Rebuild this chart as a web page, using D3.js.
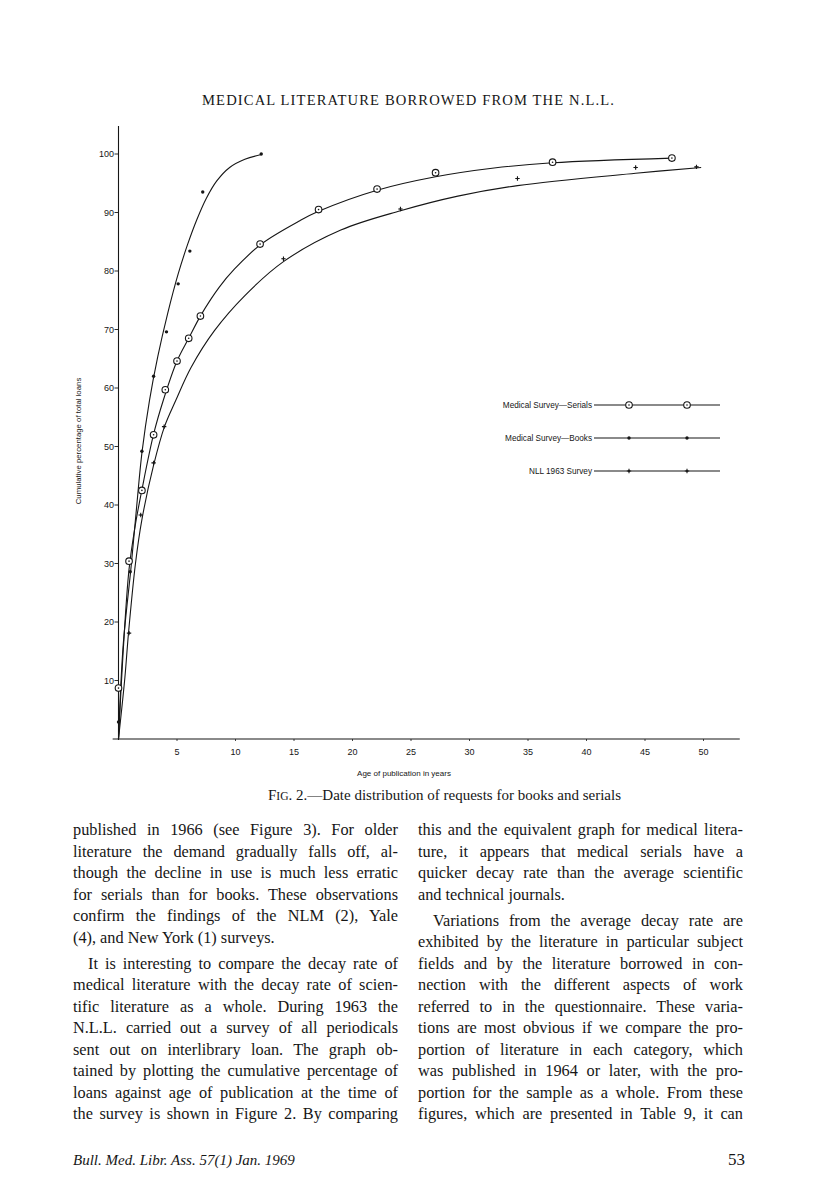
<!DOCTYPE html>
<html>
<head>
<meta charset="utf-8">
<script src="https://cdn.jsdelivr.net/npm/d3@7"></script>
<style>
  html, body { margin: 0; padding: 0; background: #ffffff; }
  svg { display: block; }
</style>
</head>
<body>
<script>
// ---------------- DATA ----------------
const serialsAge = [0, 0.9, 2, 3, 4, 5, 6, 7, 12.1, 17.1, 22.1, 27.1, 37.1, 47.3];
const serialsPct = [8.7, 30.4, 42.5, 52.0, 59.7, 64.6, 68.5, 72.3, 84.6, 90.5, 94.0, 96.8, 98.6, 99.3];

const booksAge = [0, 1, 2, 3, 4.1, 5.1, 6.1, 7.2, 12.2];
const booksPct = [2.9, 28.6, 49.2, 62.0, 69.6, 77.8, 83.4, 93.5, 100];

const nllAge = [0.9, 1.9, 3.0, 3.9, 14.1, 24.1, 34.1, 44.2, 49.4];
const nllPct = [18.1, 38.3, 47.2, 53.4, 82.1, 90.6, 95.8, 97.7, 97.8];

// hand-drawn fitted curves
const booksCurveAge = [0, 0.4, 1.08, 1.5, 2.02, 2.65, 3.36, 4.21, 5.1, 5.9, 6.7, 7.5, 8.4, 9.5, 10.8, 12.2];
const booksCurvePct = [0, 16, 29.5, 38.6, 49.2, 57.9, 65.4, 72.8, 79.5, 84.5, 88.8, 92.4, 95.4, 97.7, 99.1, 99.9];

const serialsCurveAge = [0, 0.4, 0.9, 1.43, 2.0, 3.0, 3.83, 5.0, 6.0, 7.06, 8.6, 9.9, 12.2, 15.5, 17.1, 22.1, 27.1, 32.1, 37.1, 47.3];
const serialsCurvePct = [0, 15, 29.0, 36.5, 42.6, 52.1, 57.9, 64.6, 68.5, 72.5, 77.2, 80.3, 84.6, 88.6, 90.2, 93.8, 96.1, 97.6, 98.5, 99.3];

const nllCurveAge = [0, 0.55, 0.85, 1.45, 2.0, 3.0, 3.93, 4.9, 6.2, 8.2, 10.8, 14.1, 19, 24.1, 29, 34.1, 44.2, 49.8];
const nllCurvePct = [0, 10.6, 18, 30, 37.5, 46.8, 53.4, 57.9, 63.5, 69.8, 75.8, 81.6, 87, 90.3, 92.8, 94.6, 96.7, 97.7];

const yTicks = [10, 20, 30, 40, 50, 60, 70, 80, 90, 100];
const xTicks = [5, 10, 15, 20, 25, 30, 35, 40, 45, 50];

const legendLabels = ["Medical Survey\u2014Serials", "Medical Survey\u2014Books", "NLL 1963 Survey"];

const titleText = "MEDICAL LITERATURE BORROWED FROM THE N.L.L.";
const xLabel = "Age of publication in years";
const yLabel = "Cumulative percentage of total loans";

const leftColumn = [
  ["published in 1966 (see Figure 3). For older", 1, 0],
  ["literature the demand gradually falls off, al-", 1, 0],
  ["though the decline in use is much less erratic", 1, 0],
  ["for serials than for books. These observations", 1, 0],
  ["confirm the findings of the NLM (2), Yale", 1, 0],
  ["(4), and New York (1) surveys.", 0, 0],
  ["It is interesting to compare the decay rate of", 1, 1],
  ["medical literature with the decay rate of scien-", 1, 0],
  ["tific literature as a whole. During 1963 the", 1, 0],
  ["N.L.L. carried out a survey of all periodicals", 1, 0],
  ["sent out on interlibrary loan. The graph ob-", 1, 0],
  ["tained by plotting the cumulative percentage of", 1, 0],
  ["loans against age of publication at the time of", 1, 0],
  ["the survey is shown in Figure 2. By comparing", 1, 0]
];
const rightColumn = [
  ["this and the equivalent graph for medical litera-", 1, 0],
  ["ture, it appears that medical serials have a", 1, 0],
  ["quicker decay rate than the average scientific", 1, 0],
  ["and technical journals.", 0, 0],
  ["Variations from the average decay rate are", 1, 1],
  ["exhibited by the literature in particular subject", 1, 0],
  ["fields and by the literature borrowed in con-", 1, 0],
  ["nection with the different aspects of work", 1, 0],
  ["referred to in the questionnaire. These varia-", 1, 0],
  ["tions are most obvious if we compare the pro-", 1, 0],
  ["portion of literature in each category, which", 1, 0],
  ["was published in 1964 or later, with the pro-", 1, 0],
  ["portion for the sample as a whole. From these", 1, 0],
  ["figures, which are presented in Table 9, it can", 1, 0]
];

// ---------------- DRAW ----------------
const W = 816, H = 1187;
const svg = d3.select("body").append("svg")
  .attr("width", W).attr("height", H)
  .attr("viewBox", `0 0 ${W} ${H}`);
svg.append("rect").attr("width", W).attr("height", H).attr("fill", "#fff");

const ink = "#161616";
const sans = "'Liberation Sans', Arial, sans-serif";
const serif = "'Liberation Serif', 'Times New Roman', serif";

// Title
svg.append("text")
  .attr("x", 202).attr("y", 105)
  .attr("textLength", 412).attr("lengthAdjust", "spacing")
  .attr("font-family", serif).attr("font-size", 14.6)
  .attr("fill", ink)
  .text(titleText);

// Scales
const x = d3.scaleLinear().domain([0, 50]).range([118.5, 703.5]);
const y = d3.scaleLinear().domain([0, 100]).range([739, 154]);

// Axes lines
svg.append("line").attr("x1", x(0)).attr("x2", x(0))
  .attr("y1", y(104.8)).attr("y2", y(0) + 1)
  .attr("stroke", ink).attr("stroke-width", 1.1);
svg.append("line").attr("x1", x(-0.5)).attr("x2", x(53.1))
  .attr("y1", y(0)).attr("y2", y(0))
  .attr("stroke", ink).attr("stroke-width", 1.1);

// Y ticks
const yt = svg.append("g");
yTicks.forEach(v => {
  yt.append("line").attr("x1", x(0) - 4).attr("x2", x(0))
    .attr("y1", y(v)).attr("y2", y(v)).attr("stroke", ink).attr("stroke-width", 0.9);
  yt.append("text").attr("x", x(0) - 4.5).attr("y", y(v) + 3.2)
    .attr("text-anchor", "end").attr("font-family", sans).attr("font-size", 9)
    .attr("fill", ink).text(v);
});
// X ticks
const xt = svg.append("g");
xTicks.forEach(v => {
  xt.append("line").attr("x1", x(v)).attr("x2", x(v))
    .attr("y1", y(0)).attr("y2", y(0) + 2).attr("stroke", ink).attr("stroke-width", 0.8);
  xt.append("text").attr("x", x(v)).attr("y", y(0) + 16)
    .attr("text-anchor", "middle").attr("font-family", sans).attr("font-size", 9)
    .attr("fill", ink).text(v);
});

// Axis labels
svg.append("text").attr("x", 404).attr("y", 776)
  .attr("text-anchor", "middle").attr("font-family", sans).attr("font-size", 8)
  .attr("fill", ink).text(xLabel);
svg.append("text")
  .attr("transform", `translate(81,441) rotate(-90)`)
  .attr("text-anchor", "middle").attr("font-family", sans).attr("font-size", 7.8)
  .attr("fill", ink).text(yLabel);

// Curves
const line = d3.line().x(d => x(d[0])).y(d => y(d[1])).curve(d3.curveCatmullRom.alpha(0.5));
const zip = (a, b) => a.map((v, i) => [v, b[i]]);
[[booksCurveAge, booksCurvePct], [serialsCurveAge, serialsCurvePct], [nllCurveAge, nllCurvePct]]
  .forEach(([a, b]) => {
    svg.append("path").attr("d", line(zip(a, b)))
      .attr("fill", "none").attr("stroke", ink).attr("stroke-width", 1.1);
  });

// Markers
function circleMark(g, cx, cy) {
  g.append("circle").attr("cx", cx).attr("cy", cy).attr("r", 3.3)
    .attr("fill", "#fff").attr("stroke", ink).attr("stroke-width", 1.1);
  g.append("circle").attr("cx", cx).attr("cy", cy).attr("r", 0.8).attr("fill", ink);
}
function dotMark(g, cx, cy) {
  g.append("circle").attr("cx", cx).attr("cy", cy).attr("r", 1.7).attr("fill", ink);
}
function plusMark(g, cx, cy) {
  g.append("path").attr("d", `M${cx - 2.2},${cy}H${cx + 2.2}M${cx},${cy - 2.2}V${cy + 2.2}`)
    .attr("stroke", ink).attr("stroke-width", 1.1);
  g.append("circle").attr("cx", cx).attr("cy", cy).attr("r", 0.9).attr("fill", ink);
}
const mk = svg.append("g");
serialsAge.forEach((a, i) => circleMark(mk, x(a), y(serialsPct[i])));
booksAge.forEach((a, i) => dotMark(mk, x(a), y(booksPct[i])));
nllAge.forEach((a, i) => plusMark(mk, x(a), y(nllPct[i])));

// Legend
const lg = svg.append("g");
const markers = [circleMark, dotMark, plusMark];
legendLabels.forEach((lab, i) => {
  const ly = 405 + i * 33;
  lg.append("text").attr("x", 592).attr("y", ly + 3)
    .attr("text-anchor", "end").attr("font-family", sans).attr("font-size", 8.2)
    .attr("fill", ink).text(lab);
  lg.append("line").attr("x1", 594).attr("x2", 720).attr("y1", ly).attr("y2", ly)
    .attr("stroke", ink).attr("stroke-width", 1.1);
  markers[i](lg, 629, ly);
  markers[i](lg, 687, ly);
});

// Caption
const cap = svg.append("text").attr("x", 268).attr("y", 800)
  .attr("font-family", serif).attr("font-size", 15).attr("fill", ink);
cap.append("tspan").text("F");
cap.append("tspan").attr("font-size", 11.6).text("IG");
cap.append("tspan").text(". 2.\u2014Date distribution of requests for books and serials");

// Body text columns (justified by word spacing)
function drawColumn(lines, x0, width, startY) {
  let yy = startY;
  lines.forEach(([t, just, indent], i) => {
    if (indent && i > 0) yy += 4.5;
    const xx = x0 + (indent ? 15 : 0);
    const el = svg.append("text").attr("x", xx).attr("y", yy)
      .attr("font-family", serif).attr("font-size", 16.3).attr("fill", ink)
      .text(t);
    if (just) {
      const avail = width - (indent ? 15 : 0);
      const w = el.node().getComputedTextLength();
      const spaces = (t.match(/ /g) || []).length;
      if (spaces > 0) {
        const ws = (avail - w) / spaces;
        el.attr("word-spacing", ws);
      }
    }
    yy += 21.5;
  });
}
drawColumn(leftColumn, 73, 325, 835);
drawColumn(rightColumn, 418, 325, 835);

// Footer
svg.append("text").attr("x", 73).attr("y", 1165)
  .attr("font-family", serif).attr("font-style", "italic").attr("font-size", 15)
  .attr("fill", ink).text("Bull. Med. Libr. Ass. 57(1) Jan. 1969");
svg.append("text").attr("x", 745).attr("y", 1165).attr("text-anchor", "end")
  .attr("font-family", serif).attr("font-size", 17)
  .attr("fill", ink).text("53");
</script>
</body>
</html>
